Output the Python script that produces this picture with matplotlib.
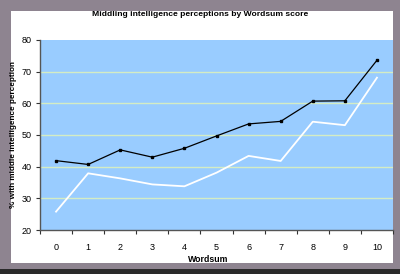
import matplotlib
matplotlib.use("Agg")
import matplotlib.pyplot as plt
from matplotlib.patches import Rectangle
import numpy as np

wordsum = [0, 1, 2, 3, 4, 5, 6, 7, 8, 9, 10]
series_black = [41.9, 40.7, 45.3, 43.0, 45.8, 49.7, 53.5, 54.3, 60.7, 60.8, 73.6]
series_white = [25.8, 37.9, 36.3, 34.4, 33.8, 38.1, 43.4, 41.8, 54.2, 53.1, 68.1]
y_ticks = [20, 30, 40, 50, 60, 70, 80]

plt.rcParams['font.family'] = ['Liberation Sans', 'DejaVu Sans']

fig = plt.figure(figsize=(4.0, 2.74), dpi=100)
fig.patch.set_facecolor('#8e8490')
W, H = 400, 274
# white card
fig.patches.append(Rectangle((11 / W, 1 - 263 / H), 382 / W, 252 / H,
                             transform=fig.transFigure, facecolor='white',
                             edgecolor='none', zorder=-10))
# dark strip at bottom
fig.patches.append(Rectangle((0, 0), 1, 5 / H, transform=fig.transFigure,
                             facecolor='#2a2a2a', edgecolor='none', zorder=-10))

ax = fig.add_axes([40 / W, 1 - 230 / H, 353 / W, 190 / H])
ax.set_zorder(5)
ax.set_facecolor('#99ccff')
ax.set_xlim(-0.5, 10.5)
ax.set_ylim(20, 80)

for yv in y_ticks[1:-1]:
    ax.axhline(yv, color='#d4ecc4', lw=1.0, zorder=1)

ax.plot(wordsum, series_white, color='white', lw=1.3, zorder=3)
ax.plot(wordsum, series_black, color='black', lw=0.9, marker='s',
        markersize=1.6, zorder=4)

ax.set_yticks(y_ticks)
ax.set_xticks(wordsum)
ax.set_xticks(np.arange(-0.5, 10.6, 1.0), minor=True)
ax.tick_params(axis='x', which='major', length=0, pad=9, labelsize=6.5)
ax.tick_params(axis='x', which='minor', length=3, width=0.8, color='#333333', direction='out')
ax.tick_params(axis='y', length=3, width=0.8, color='#333333', labelsize=6.5, pad=3)

for s in ['top', 'right']:
    ax.spines[s].set_visible(False)
for s in ['left', 'bottom']:
    ax.spines[s].set_color('#555555')
    ax.spines[s].set_linewidth(1.0)

fig.text(200 / W, 1 - 15 / H, 'Middling intelligence perceptions by Wordsum score',
         ha='center', va='center', fontsize=6.1, fontweight='bold')
fig.text(208 / W, 1 - 259 / H, 'Wordsum', ha='center', va='center',
         fontsize=6.3, fontweight='bold')
fig.text(14 / W, 1 - 135 / H, '% with middle intelligence perception',
         ha='center', va='center', rotation=90, fontsize=5.9, fontweight='bold')

fig.savefig('out.png', dpi=100, facecolor=fig.get_facecolor())
